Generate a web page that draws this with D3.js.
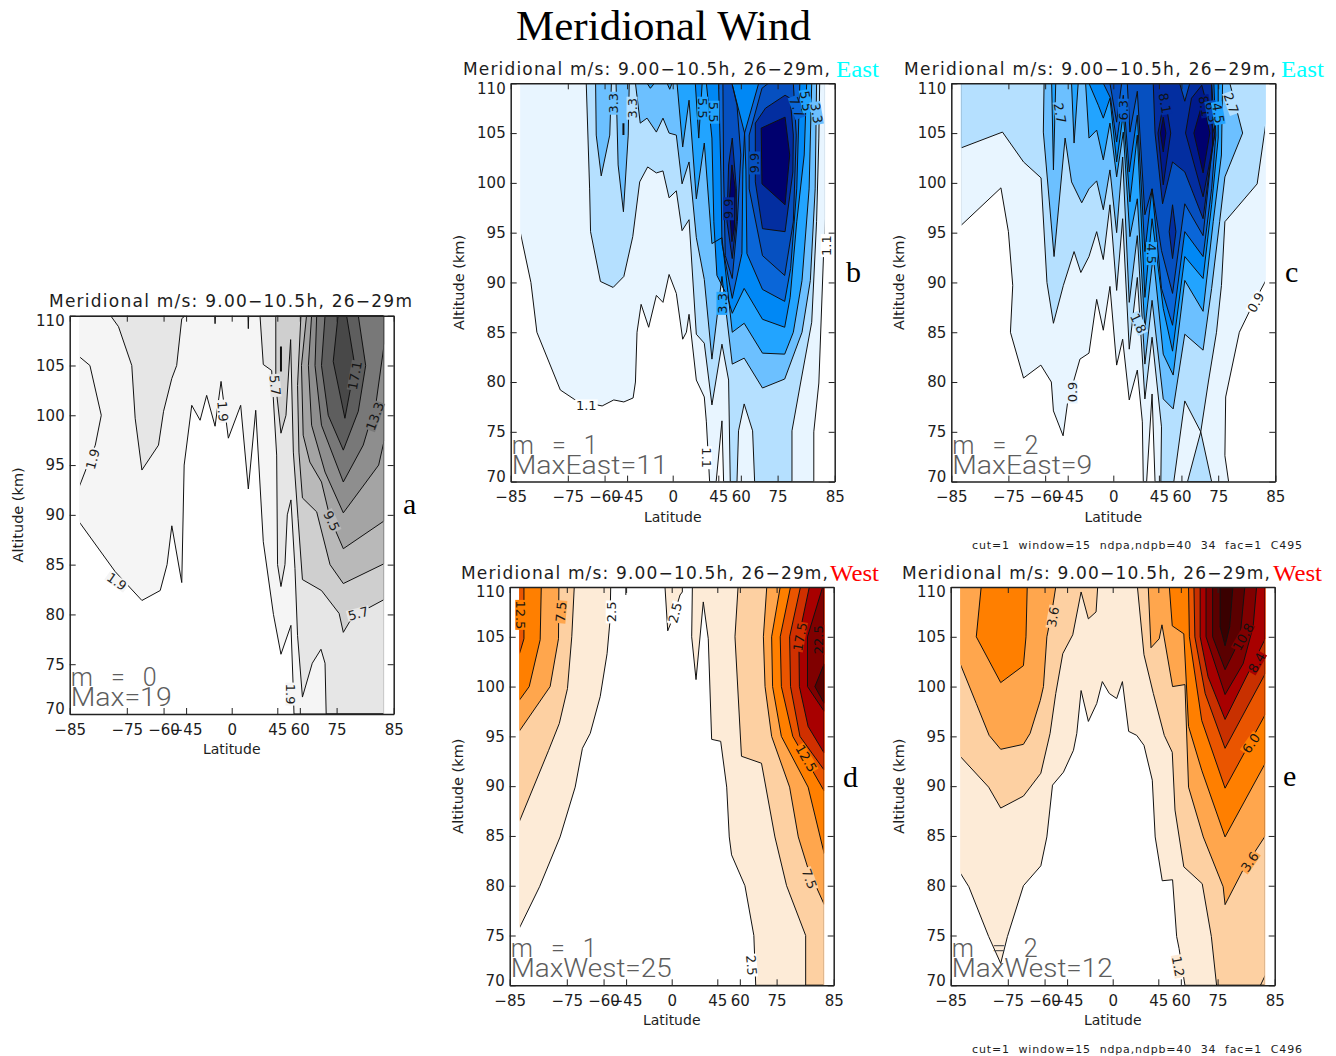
<!DOCTYPE html>
<html><head><meta charset="utf-8">
<style>html,body{margin:0;padding:0;background:#fff}svg{display:block}</style>
<script src="https://cdn.jsdelivr.net/npm/d3@7"></script></head><body><div id="chart"></div>
<script>
const latTicks=[-85,-75,-60,-45,0,45,60,75,85];
const altTicks=[70,75,80,85,90,95,100,105,110];
const grays=["#f5f5f5","#e6e6e6","#cfcfcf","#b9b9b9","#a4a4a4","#8e8e8e","#787878","#5e5e5e","#484848"];
const blues=["#e8f5ff","#b5e0ff","#6cc0ff","#22a4ff","#0088f5","#0a66d8","#0650c0","#032ea0","#00006e"];
const bluesC=["#e8f5ff","#b5e0ff","#6cc0ff","#22a4ff","#0088f5","#0a66d8","#0650c0","#032ea0","#001a8c","#00006e"];
const oranges=["#fdebd7","#fdd0a2","#ffa64d","#ff7f00","#ea5500","#d03000","#a80000","#800000","#580000"];
const orangesE=["#fdebd7","#fdd0a2","#ffa64d","#ff7f00","#ea5500","#c83000","#a80000","#800000","#5a0000","#3a0000"];

// contour regions: [level index, polygon of [lat, altitude]]
const regionsA=[
[0,[[-84,110],[-84,89.3],[-78,84.3],[-70,81.4],[-61.8,82.4],[-58,85],[-55.1,88.9],[-48.3,83.2],[-46.5,95],[-40.4,101],[-33,99.5],[-26.7,102],[-18.1,98.9],[-11.7,103.4],[-3.7,97.7],[9.9,101],[18.1,92.6],[25.7,100.5],[33,87.3],[41.9,80],[47.8,76],[54.7,78.9],[56.2,72.3],[56.6,70],[84,70],[84,110]]],
[1,[[-79,110],[-77.2,108.9],[-73.5,105],[-72.4,99.7],[-70,94.5],[-62.7,97],[-60,100.4],[-55.1,103.7],[-51.9,105],[-48.3,109.7],[-45.7,110]]],
[1,[[-18.5,110],[-18.1,109.2],[-17.7,110]]],
[1,[[17.7,110],[18.1,108.7],[18.5,110]]],
[1,[[29.9,110],[33,105.1],[40.4,104.5],[44.5,96],[45.2,85],[47.8,82.8],[50.7,85],[52.3,90],[54.7,91.5],[57.2,84.6],[58.7,77.9],[61.4,71.7],[66.2,75.1],[69.8,76.5],[71.3,75.1],[71.7,70],[84,70],[84,110]]],
[2,[[43.8,110],[43.8,103],[47.8,98.2],[51.4,100],[54.5,107.6],[56.2,96.3],[59,89.6],[61.4,83.5],[70,82.4],[75.7,80.1],[76.8,78.2],[79,79.8],[84,81.5],[84,110]]],
[3,[[60.6,110],[58.7,103],[59.5,96.3],[61.4,91.7],[68.1,90.3],[73,85],[76.8,83.1],[84,85.1],[84,110]]],
[4,[[63.5,110],[60.9,105],[61.8,98],[65.1,95.3],[70,93.3],[73,89.7],[76.8,86.6],[84,89.4],[84,110]]],
[5,[[65.9,110],[64.4,105],[65.9,99],[71.3,94.3],[76.8,90.2],[83.3,95],[84,97.5],[84,110]]],
[6,[[68.1,110],[67.4,105],[70,99],[76.8,93.3],[81,97],[83,101.4],[84,107.2],[84,110]]],
[7,[[71.3,110],[70,105],[72.4,100],[76.8,96.5],[80.1,100.4],[81.4,105],[80.1,110]]],
[8,[[75.4,110],[74,105.4],[77.2,99.7],[79.4,105],[77.6,110]]]
];
const linesA=[{w:1,p:[[-84,105.9],[-82.6,105],[-80.8,100],[-81.8,97],[-84,92.8]]},{w:2,p:[[47.8,106.9],[47.8,104.4]]}];
const labelsA=[["1.9",-82.2,95.6,-75,0],["1.9",-77.6,83.3,35,0],["1.9",-9.9,100.4,85,0],["5.7",43.3,103,85,1],["9.5",73.5,89.4,65,3],["13.3",82.8,99.9,-70,6],["17.1",79.4,104,-80,7],["5.7",80.1,80.1,-15,1],["1.9",54.7,72,90,0]];

const regionsB=[
[0,[[-84,110],[-84,95.1],[-82.6,90],[-81.7,85],[-77,79.2],[-72.2,78.1],[-61.3,77.6],[-54.5,78.2],[-47.5,78],[-40.1,78.4],[-38.1,80],[-36.7,85],[-33,87.8],[-25.7,85.5],[-17.8,88.7],[-10.7,88],[-4,90.8],[4,88.9],[11,84.3],[15,85],[17.8,86.8],[25.3,80.2],[33,78.5],[34.9,76],[37.8,70],[43.3,70],[47.8,76.1],[49,70],[82.5,70],[82.5,75],[83.2,79.9],[83.8,93.1],[84,96.4],[84,110]]],
[1,[[-68.7,110],[-67.3,99.4],[-66.9,95.1],[-62.2,90.1],[-54.9,89.5],[-47.5,90.6],[-40.4,94.6],[-34.3,100.1],[-26.7,101.6],[-17.8,101],[-10.7,101.2],[-4,98.5],[4,99.2],[10.3,95.2],[17.8,96.3],[25.3,84.8],[33,83.9],[39.8,77.7],[47.8,83.8],[52.5,80.2],[53.6,70],[57.8,70],[58.7,75.1],[61.8,77.8],[65.9,75.1],[66.8,70],[78.6,70],[78.6,75.1],[80.3,79.8],[82.2,86],[82.9,96.1],[83.2,104.5],[83.3,110]]],
[2,[[-64.6,110],[-64.3,104.8],[-61.8,100.7],[-57,104.8],[-56,110]]],
[2,[[-53,110],[-51.6,101.8],[-47.8,97.1],[-44.1,104.8],[-43.3,110]]],
[2,[[-38.1,110],[-33.8,106],[-27.3,106.5],[-17.8,105.1],[-10.7,106.5],[-4,105],[4,104.8],[10.3,99.9],[17.8,102.1],[25.3,94.5],[33,90.3],[39.8,82.3],[47.8,90.6],[54.9,81.8],[61.8,82.4],[70,79.4],[76.9,80.3],[80.6,85],[82,90.2],[82.7,99.4],[82.9,110]]],
[3,[[4.8,110],[11,103.6],[17.8,108.3],[25.3,98.4],[33,104],[39.8,93.9],[47.8,94.5],[54.9,85],[61.8,85.9],[70,82.9],[76.9,82.8],[78.9,85],[80.6,90.2],[81.8,99.4],[82.2,110]]],
[3,[[-27.3,110],[-24,109.5],[-19.8,110]]],
[3,[[-6.2,110],[-3.3,109.4],[-0.7,110]]],
[4,[[34.9,110],[39.8,104.5],[41.4,96.1],[43.9,90.7],[51.4,88.7],[54.9,86.9],[61.8,89.4],[70,86.3],[76.9,85.5],[78.2,88.5],[79.6,96.1],[81,102.8],[81.4,110]]],
[4,[[24.3,110],[27.7,104.5],[31,110]]],
[5,[[45.2,110],[47,101.1],[47.8,93.9],[54.9,88.4],[60.6,92.9],[61.1,101.3],[62,105],[54.7,110]]],
[5,[[68.5,110],[62,105],[62.7,101.3],[63.2,92.9],[70,89.3],[76.9,88.1],[78.3,91.4],[79.6,99.4],[80.2,110]]],
[6,[[48.5,110],[49,101.1],[50.2,92.7],[54.9,90.4],[58,96.1],[60,102.8],[57.8,107.8],[54.7,110]]],
[6,[[72.1,110],[69.8,109.5],[64.3,104.8],[64.3,99.4],[70,92.7],[76.9,90.7],[78.9,96.1],[79.5,104.8],[78.9,110]]],
[7,[[52.5,101.8],[54.9,104.5],[57.4,99.4],[57.4,96.1],[54.9,92.4],[51.4,96.1]]],
[7,[[77,108.8],[71.1,107.5],[67.1,106],[67.1,100.1],[70,95.4],[77,95.1],[78.8,101.1],[78.9,104.8],[78.2,108.5]]],
[8,[[54.7,101.8],[56.8,99.4],[56.2,95.4],[54.7,94.1],[52.8,97.8]]],
[8,[[77,106.6],[69.5,105.5],[69.8,99.9],[77,97.8],[78.1,102.8]]]
];
const linesB=[{w:2,p:[[-47.8,106],[-47.8,104.8]]}];
const labelsB=[["3.3",-54.5,108,-90,2],["3.3",-41,107.5,-90,1],["5.5",31.5,107.5,90,3],["5.5",41.4,107.1,90,3],["9.9",66.8,102,-90,6],["9.9",52.5,97.4,-90,7],["7.7",79.6,107.6,70,5],["5.5",81.3,108.2,80,3],["3.3",82.9,107,80,2],["1.1",84.1,93.7,-90,-1],["3.3",47.8,87.9,-90,3],["1.1",34.9,72.4,90,-1],["1.1",-68.7,77.7,0,-1]];

const regionsC=[
[0,[[-84,110],[-84,95.7],[-77,99.5],[-75,95.1],[-73.7,89.7],[-74.4,85],[-70,80.4],[-62.3,81.7],[-56.4,80],[-55.1,77.1],[-48.5,74.6],[-45,78],[-34.6,82.3],[-26,82.9],[-18.1,88.3],[-11,85.2],[-3.7,89.6],[3.7,81.7],[10.3,84.3],[17.4,78.2],[25.7,81.2],[30.6,76],[31.5,70],[34.6,70],[39.4,78.8],[41.9,70],[77.7,70],[76.8,72.6],[77,78.5],[80,85],[82,87.4],[84,90.2],[84,110]]],
[1,[[-84,110],[-84,103.5],[-76.6,105.1],[-70,102.1],[-62.2,100.5],[-59,90],[-55.1,85.9],[-48.3,89.7],[-39.8,93.1],[-33.8,91],[-26,92.6],[-18.1,95.1],[-11,92.3],[-3.7,97.8],[3.7,89.2],[10.3,96.4],[17.4,83.3],[25.7,90.5],[33,78.3],[39.4,84.5],[47,75.5],[46.5,70],[55.5,70],[61.8,78.1],[69.1,75],[63.2,70],[73,70],[69.1,75],[71.9,80],[74.5,85],[75.9,89.7],[76.8,96.1],[82.9,99.9],[84,106],[84,110]]],
[2,[[-60.6,110],[-61,105.1],[-54.7,92.6],[-47,104.5],[-41.9,100.1],[-33,98],[-26,99.4],[-18.1,100.2],[-11,97.3],[-3.7,101.3],[3.7,95],[10.3,102.6],[17.4,88],[25.7,94.7],[33,81.8],[39.4,88.2],[48.3,78.3],[55.1,77.3],[61.8,84.8],[70,83.2],[73,89.4],[75.4,96.1],[76.8,100.6],[80.6,105],[78,110]]],
[3,[[-56.2,110],[-55.1,101.3],[-53.6,110]]],
[3,[[-41.9,110],[-39.8,104],[-36.2,110]]],
[3,[[-29.3,110],[-26,104.5],[-18.1,105.3],[-11,102.3],[-3.7,106],[3.7,100.6],[11,105.1],[18.1,94.6],[25.7,98.4],[33,85.4],[40.4,92.7],[48.3,82.8],[55.1,80.7],[61.8,90.2],[70,87.1],[73.5,96.1],[75.9,102.8],[76.2,110]]],
[4,[[-26,110],[-16.4,107.8],[-11,106.5],[-3.7,108.5],[3.7,102.1],[11,107],[18.1,98.1],[25.7,104.8],[33,88.5],[39.4,96.4],[48.3,87.4],[54.7,83.1],[61.8,92.6],[70,90.4],[73,97.8],[75,104.5],[75,110]]],
[5,[[-11,110],[-3,108.5],[3.7,104.1],[11,108.8],[17.4,101.1],[25.7,106.8],[33,93.1],[39.4,99.4],[47,89.4],[54.7,85.7],[61.8,95.1],[70,92.6],[73,99.4],[74.3,104.8],[73.7,110]]],
[6,[[15.3,110],[18.1,105.1],[25.7,109.2],[33,96.8],[39.4,99.4],[47,93.2],[54.7,88.9],[61.8,97.9],[70,94.7],[72.6,101.8],[74,105.1],[73,110]]],
[6,[[-3.7,110],[3.7,106.1],[9.2,110]]],
[7,[[40.4,110],[41.9,105],[47.8,97.9],[54.7,102.1],[61.8,101.1],[65.1,99.4],[70,96.4],[73.3,103.8],[73,110],[64.3,110],[61.8,108.2],[59,110]]],
[7,[[52.5,95.1],[54.7,97.8],[56.8,95.1],[54.7,92.4]]],
[8,[[44.3,105],[48.3,99.8],[53.5,105],[49.5,108.7]]],
[8,[[62.2,105],[70,98.6],[74,104.8],[69.5,109.8],[65.1,108.5]]],
[9,[[46.2,105],[48.3,103.1],[50.2,105],[48.3,106.6]]],
[9,[[66.2,105],[70,101],[72.4,105],[70,108.3]]]
];
const linesC=[];
const labelsC=[["2.7",-50.7,107,80,2],["6.3",11,107.3,-90,5],["8.1",49.5,108,80,7],["8.1",70.7,107.7,80,8],["6.3",73,107.1,80,6],["4.5",75,107,80,3],["2.7",78.3,108,70,1],["4.5",39,92.9,90,3],["1.8",26.7,85.9,65,1],["0.9",-41.4,79,-90,0],["0.9",82.7,88,-60,-1]];

const regionsD=[
[0,[[-84,110],[-84,75.7],[-81.1,79.9],[-76.8,84.9],[-72.4,89.9],[-69.8,93.8],[-66.6,95.3],[-61.8,99],[-58,103.3],[-56.2,106.7],[-55.8,110]]],
[0,[[-7.4,110],[-4.4,105.6],[1.8,107],[9.2,109.2],[11.7,109.5],[11.7,110]]],
[0,[[22.3,110],[21.6,105],[26,100.7],[33,108.5],[37.5,104.8],[40.4,94.7],[47.6,94.5],[51.9,89.9],[53.6,84.9],[55.1,83.1],[62.7,80],[66.9,75],[67.7,70],[84,70],[84,110]]],
[1,[[-84,110],[-84,86.4],[-79.4,93.6],[-77,96.3],[-74.8,99.8],[-73.5,105],[-72.7,110]]],
[1,[[59,110],[57.2,105],[60.9,93],[70,92.3],[74.5,84.9],[77.6,80],[81.4,75],[81.4,70],[84,70],[84,110]]],
[2,[[-84,110],[-84,95.5],[-79.1,100],[-77.2,104.8],[-77.1,110]]],
[2,[[71.9,110],[70.7,105],[71.3,100],[73.5,95],[78.3,89.9],[80.1,84.9],[81.8,81.7],[84,78.1],[84,110]]],
[3,[[-84,110],[-84,98.6],[-82.7,100],[-81,104.7],[-80.8,110]]],
[3,[[76,110],[73.5,105],[73.8,100],[76.3,95],[81.8,89.9],[84,83.2],[84,110]]],
[4,[[-84,110],[-84,103.2],[-83.4,104.8],[-83.4,110]]],
[4,[[78.5,110],[76,105],[76.3,100],[79,95],[84,89.5],[84,110]]],
[5,[[80.5,110],[78.3,105],[78.5,100],[80.4,95],[84,91.6],[84,110]]],
[6,[[82,110],[80.2,105],[80.3,100],[81.8,96],[84,93.3],[84,110]]],
[7,[[83.8,110],[81.7,105],[81.7,100],[84,97.5],[84,110]]],
[8,[[84,102.3],[82.8,100],[84,98.3]]]
];
const linesD=[{w:1,p:[[-45.2,110],[-45.2,109.2]]}];
const labelsD=[["12.5",-83.8,107.2,90,3],["7.5",-76.6,107.5,-85,2],["2.5",-55.5,107.5,-90,-1],["2.5",3.7,107.4,-75,-1],["17.5",80.4,105,-80,5],["22.5",83.3,104.7,-90,7],["12.5",81.5,92.8,60,3],["7.5",82,80.7,70,1],["2.5",65.9,72,85,-1]];

const regionsE=[
[0,[[-84,110],[-84,81.3],[-82.9,79.9],[-79.6,74.9],[-76.9,72.2],[-75.1,74.9],[-69.8,80],[-62,82],[-58.7,84.9],[-55.3,90.1],[-47.8,91.4],[-39.8,93.6],[-36.9,95.3],[-33,99.6],[-26,96.5],[-17.4,98.3],[-11.4,100.5],[-3.7,99.3],[4.4,98.8],[10.7,100.5],[17.4,95.5],[25.7,95.1],[32.7,94.1],[40.1,90.6],[42.5,84.9],[48,80.5],[55.1,80.6],[57.6,74.9],[59,73.7],[62.2,70],[84,70],[84,110]]],
[1,[[-84,110],[-84,93],[-79.6,89.9],[-76.9,87.8],[-69.8,89],[-62,91.3],[-56.8,95.3],[-53.2,99.3],[-48.3,103.3],[-40.4,105.2],[-33,109.5],[-26,106.8],[-18.1,107.5],[-16.4,110]]],
[1,[[26.4,110],[32.7,103.2],[41,99.3],[49.5,95.1],[54.9,93.4],[56.6,87.6],[61.6,81.9],[69.9,80.2],[73.1,74.9],[74.7,70],[84,70],[84,110]]],
[2,[[-84,110],[-84,102.3],[-81.8,98.3],[-79.5,95.1],[-76.9,93.7],[-69.8,94.2],[-67.1,95.3],[-62.3,98.6],[-60.6,100],[-58.7,105],[-55.8,107.4],[-53.2,110]]],
[2,[[36.6,110],[39,103.9],[45.7,104.8],[47.8,106.2],[55.1,100],[62.2,100.2],[64,89.9],[70.3,84.9],[76.5,79.9],[77,78.1],[80.8,81.6],[84,85],[84,110]]],
[3,[[-81,110],[-81.8,105],[-76.9,100.4],[-69.8,102.1],[-68.8,105],[-68.3,110]]],
[3,[[53,110],[54.9,106.1],[61.6,105.3],[64,96],[69.7,91.6],[77,84.9],[84,92.3],[84,110]]],
[4,[[64,110],[64.4,105],[69.7,96.6],[77,89.8],[84,97.2],[84,110]]],
[5,[[66.5,110],[66.9,105],[71,99.3],[77,93.8],[84,101.3],[84,110]]],
[6,[[69.1,110],[69.1,105],[72,101],[77,96.7],[84,104.8],[84,110]]],
[7,[[71.3,110],[71.3,105],[77,99.2],[80.8,102.3],[82.4,106],[82.9,110]]],
[8,[[73.5,110],[73.5,105],[77,101.7],[80.2,104.7],[81.1,110]]],
[9,[[75.7,110],[75.7,106],[77,104.1],[78.1,106],[78.8,110]]]
];
const linesE=[{w:1,p:[[83.4,70],[84,71]]}];
const labelsE=[["3.6",-55.1,107,-80,1],["10.8",80.8,105,-60,7],["8.4",82.9,102.4,-60,6],["6.0",82.1,94.3,-55,3],["3.6",81.9,82.4,-55,2],["1.2",58.5,71.9,80,0]];

const panelTitle="Meridional m/s: 9.00\u221210.5h, 26\u221229m";
const panels=[
 {x0:69.7,y0:315.7,colors:grays,regions:regionsA,lines:linesA,labels:labelsA,title:panelTitle,tx:49,tw:363,dy:-8.5,m:"m = 0",big:"Max=19",bigw:101,letter:"a",lx:403,ly:514},
 {x0:510.7,y0:83.3,colors:blues,regions:regionsB,lines:linesB,labels:labelsB,title:panelTitle+",",tx:463,tw:367,dy:-8.5,m:"m = 1",big:"MaxEast=11",bigw:156,letter:"b",lx:846,ly:282,side:"East",sc:"#00ffff",sx:836,sw:43},
 {x0:951.3,y0:83.3,colors:bluesC,regions:regionsC,lines:linesC,labels:labelsC,title:panelTitle+",",tx:904,tw:372,dy:-8.5,m:"m = 2",big:"MaxEast=9",bigw:140,letter:"c",lx:1285,ly:282,side:"East",sc:"#00ffff",sx:1281,sw:43,foot:"cut=1  window=15  ndpa,ndpb=40  34  fac=1  C495",fy:549},
 {x0:509.7,y0:587,colors:oranges,regions:regionsD,lines:linesD,labels:labelsD,title:panelTitle+",",tx:461,tw:367,dy:-8.5,m:"m = 1",big:"MaxWest=25",bigw:161,letter:"d",lx:843,ly:787,side:"West",sc:"#ff0000",sx:830,sw:49},
 {x0:950.7,y0:587,colors:orangesE,regions:regionsE,lines:linesE,labels:labelsE,title:panelTitle+",",tx:902,tw:368,dy:-8.5,m:"m = 2",big:"MaxWest=12",bigw:161,letter:"e",lx:1283,ly:786,side:"West",sc:"#ff0000",sx:1273,sw:49,foot:"cut=1  window=15  ndpa,ndpb=40  34  fac=1  C496",fy:1053}
];
const W=324,H=398.3;
const sans='"DejaVu Sans",sans-serif', serif='"Liberation Serif",serif';
const merc=l=>Math.log(Math.tan(Math.PI/4+l*Math.PI/360));
const stops=d3.range(-85,85.5,1);
const svg=d3.select("#chart").append("svg").attr("width",1336).attr("height",1056);
svg.append("text").attr("x",516).attr("y",40).attr("font-family",serif).attr("font-size",43).attr("textLength",295).attr("lengthAdjust","spacingAndGlyphs").text("Meridional Wind");
panels.forEach((p,i)=>{
  const x=d3.scaleLinear().domain(stops).range(stops.map(l=>p.x0+W/2*(1+merc(l)/merc(85))));
  const y=d3.scaleLinear().domain([70,110]).range([p.y0+H,p.y0]);
  const line=d3.line().x(d=>x(d[0])).y(d=>y(d[1]));
  const g=svg.append("g");
  const cid="clip"+i;
  g.append("clipPath").attr("id",cid).append("rect").attr("x",x(-84)+1).attr("y",p.y0).attr("width",x(84)-x(-84)-2).attr("height",H);
  p.regions.forEach(r=>g.append("path").attr("d",line(r[1])+"Z").attr("fill",p.colors[r[0]]));
  const cl=g.append("g").attr("clip-path",`url(#${cid})`);
  p.regions.forEach(r=>cl.append("path").attr("d",line(r[1])+"Z").attr("fill","none").attr("stroke","#111").attr("stroke-width",1));
  p.lines.forEach(l=>cl.append("path").attr("d",line(l.p)).attr("fill","none").attr("stroke","#111").attr("stroke-width",l.w));
  p.labels.forEach(l=>{
    const bg=l[4]<0?"#fff":p.colors[l[4]];
    const lg=g.append("g").attr("transform",`translate(${x(l[1])},${y(l[2])}) rotate(${l[3]})`);
    lg.append("rect").attr("x",-l[0].length*3.5-1).attr("y",-5.5).attr("width",l[0].length*7+2).attr("height",11).attr("fill",bg);
    lg.append("text").attr("text-anchor","middle").attr("dy","0.36em").attr("font-family",sans).attr("font-size",13)
     .attr("fill","#111").attr("opacity",.95).text(l[0]);
  });
  // frame and axes
  const fmt=d=>d<0?"\u2212"+(-d):""+d;
  const bottom=g.append("g").attr("transform",`translate(0,${p.y0+H})`).call(d3.axisBottom(x).tickValues(latTicks).tickSize(-6).tickSizeOuter(0).tickPadding(10).tickFormat(fmt));
  const top=g.append("g").attr("transform",`translate(0,${p.y0})`).call(d3.axisTop(x).tickValues(latTicks).tickSize(-6).tickSizeOuter(0).tickFormat(""));
  const left=g.append("g").attr("transform",`translate(${p.x0},0)`).call(d3.axisLeft(y).tickValues(altTicks).tickSize(-6).tickSizeOuter(0).tickPadding(5));
  const right=g.append("g").attr("transform",`translate(${p.x0+W},0)`).call(d3.axisRight(y).tickValues(altTicks).tickSize(-6).tickSizeOuter(0).tickFormat(""));
  [bottom,top,left,right].forEach(a=>{a.selectAll("path").attr("stroke","#222").attr("stroke-width",1.5);a.selectAll("line").attr("stroke","#222").attr("stroke-width",1);a.selectAll("text").attr("font-family",sans).attr("font-size",15).attr("fill","#111").attr("opacity",.95);});
  left.selectAll(".tick text").attr("transform",d=>d===110?"translate(0,5)":d===70?"translate(0,-5)":null);
  g.append("text").attr("x",p.x0+W/2).attr("y",p.y0+H+40).attr("text-anchor","middle").attr("font-family",sans).attr("font-size",14).attr("fill","#111").attr("opacity",.95).text("Latitude");
  g.append("text").attr("transform",`translate(${p.x0-47},${p.y0+H/2}) rotate(-90)`).attr("text-anchor","middle").attr("font-family",sans).attr("font-size",14.5).attr("fill","#111").attr("opacity",.95).text("Altitude (km)");
  g.append("text").attr("x",p.tx).attr("y",p.y0+p.dy).attr("font-family",sans).attr("font-size",17).attr("fill","#111").attr("opacity",.95).attr("textLength",p.tw).attr("lengthAdjust","spacing").text(p.title);
  if(p.side) g.append("text").attr("x",p.sx).attr("y",p.y0-6.5).attr("font-family",serif).attr("font-size",24).attr("fill",p.sc).attr("textLength",p.sw).attr("lengthAdjust","spacingAndGlyphs").text(p.side);
  g.append("text").attr("x",p.x0+1).attr("y",p.y0+H-28).attr("font-family",'"Roboto",sans-serif').attr("font-weight",300).attr("font-size",25).attr("fill","#555").attr("opacity",.95).attr("textLength",86).attr("xml:space","preserve").text(p.m);
  g.append("text").attr("x",p.x0+1).attr("y",p.y0+H-8).attr("font-family",'"Roboto",sans-serif').attr("font-weight",300).attr("font-size",25).attr("fill","#555").attr("opacity",.95).attr("textLength",p.bigw).attr("lengthAdjust","spacingAndGlyphs").text(p.big);
  g.append("text").attr("x",p.lx).attr("y",p.ly).attr("font-family",serif).attr("font-size",30).attr("text-anchor","start").attr("fill","#000").text(p.letter);
  if(p.foot) g.append("text").attr("x",972).attr("y",p.fy).attr("font-family",sans).attr("font-size",11).attr("fill","#111").attr("opacity",.95).attr("textLength",330).attr("xml:space","preserve").text(p.foot);
});
</script></body></html>
